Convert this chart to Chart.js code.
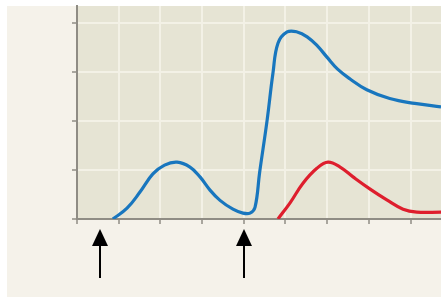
<!DOCTYPE html>
<html>
<head>
<meta charset="utf-8">
<script src="https://cdn.jsdelivr.net/npm/chart.js@4/dist/chart.umd.min.js"></script>
<style>
  html, body { margin: 0; padding: 0; background: #ffffff; }
  #wrap { width: 441px; height: 297px; }
</style>
</head>
<body>
<div id="wrap"><canvas id="curveChart" width="441" height="297"></canvas></div>
<script>
// values (x in tick steps, y in tick steps)
const blueX = [0.86, 1.20, 1.51, 1.82, 2.10, 2.40, 2.71, 2.95, 3.19, 3.43, 3.74, 3.98, 4.15, 4.27, 4.38, 4.56, 4.70, 4.82, 5.04, 5.28, 5.52, 5.76, 6.00, 6.25, 6.55, 6.95, 7.50, 8.10, 8.73];
const blueY = [0.00, 0.22, 0.55, 0.92, 1.10, 1.16, 1.06, 0.86, 0.59, 0.38, 0.20, 0.12, 0.12, 0.24, 0.95, 2.02, 2.98, 3.59, 3.82, 3.82, 3.72, 3.54, 3.30, 3.06, 2.86, 2.64, 2.46, 2.36, 2.29];
const redX = [4.82, 5.11, 5.42, 5.76, 6.02, 6.31, 6.62, 7.03, 7.43, 7.82, 8.15, 8.73];
const redY = [0.00, 0.33, 0.73, 1.04, 1.16, 1.06, 0.86, 0.61, 0.39, 0.20, 0.14, 0.14];
const arrowX = [0.55, 4.0];
const xRange = [0, 8.73];
const yRange = [0, 4.35];

function toPoints(xs, ys) {
    return xs.map((x, i) => ({ x: x, y: ys[i] }));
}

// panel background + plot area fill
const backdrop = {
    id: 'backdrop',
    beforeDraw(chart) {
        const ctx = chart.ctx;
        const a = chart.chartArea;
        ctx.save();
        ctx.fillStyle = '#ffffff';
        ctx.fillRect(0, 0, chart.width, chart.height);
        ctx.fillStyle = '#f5f2ea';
        ctx.fillRect(7, 6, chart.width - 7, chart.height - 6);
        ctx.fillStyle = '#e6e4d4';
        ctx.fillRect(a.left, a.top, a.right - a.left, a.bottom - a.top);
        ctx.restore();
    }
};

// upward arrows under the x axis
const arrows = {
    id: 'arrows',
    afterDraw(chart) {
        const ctx = chart.ctx;
        const xs = chart.scales.x;
        ctx.save();
        ctx.fillStyle = '#000';
        ctx.strokeStyle = '#000';
        ctx.lineWidth = 2;
        arrowX.forEach(v => {
            const px = Math.round(xs.getPixelForValue(v));
            ctx.beginPath();
            ctx.moveTo(px, 244);
            ctx.lineTo(px, 278);
            ctx.stroke();
            ctx.beginPath();
            ctx.moveTo(px, 229);
            ctx.lineTo(px - 8, 246);
            ctx.lineTo(px + 8, 246);
            ctx.closePath();
            ctx.fill();
        });
        ctx.restore();
    }
};

new Chart(document.getElementById('curveChart'), {
    type: 'line',
    data: {
        datasets: [
            {
                data: toPoints(blueX, blueY),
                borderColor: 'rgb(24, 118, 190)',
                borderWidth: 3.2,
                pointRadius: 0,
                tension: 0.4,
                fill: false
            },
            {
                data: toPoints(redX, redY),
                borderColor: 'rgb(222, 30, 45)',
                borderWidth: 3.2,
                pointRadius: 0,
                tension: 0.4,
                fill: false
            }
        ]
    },
    options: {
        responsive: false,
        animation: false,
        events: [],
        layout: { padding: { left: 7, top: 6, right: 0, bottom: 0 } },
        plugins: { legend: { display: false }, tooltip: { enabled: false } },
        scales: {
            x: {
                type: 'linear',
                min: xRange[0],
                max: xRange[1],
                afterFit(scale) { scale.height = 78; },
                ticks: { display: false, stepSize: 1, includeBounds: false },
                grid: { color: '#f3f1e6', lineWidth: 2, tickLength: 5, tickColor: '#8f8c84', tickWidth: 1.5 },
                border: { color: '#8f8c84', width: 2 }
            },
            y: {
                min: yRange[0],
                max: yRange[1],
                afterFit(scale) { scale.width = 70; },
                ticks: { display: false, stepSize: 1, includeBounds: false },
                grid: { color: '#f3f1e6', lineWidth: 2, tickLength: 5, tickColor: '#8f8c84', tickWidth: 1.5 },
                border: { color: '#8f8c84', width: 2 }
            }
        }
    },
    plugins: [backdrop, arrows]
});
</script>
</body>
</html>
